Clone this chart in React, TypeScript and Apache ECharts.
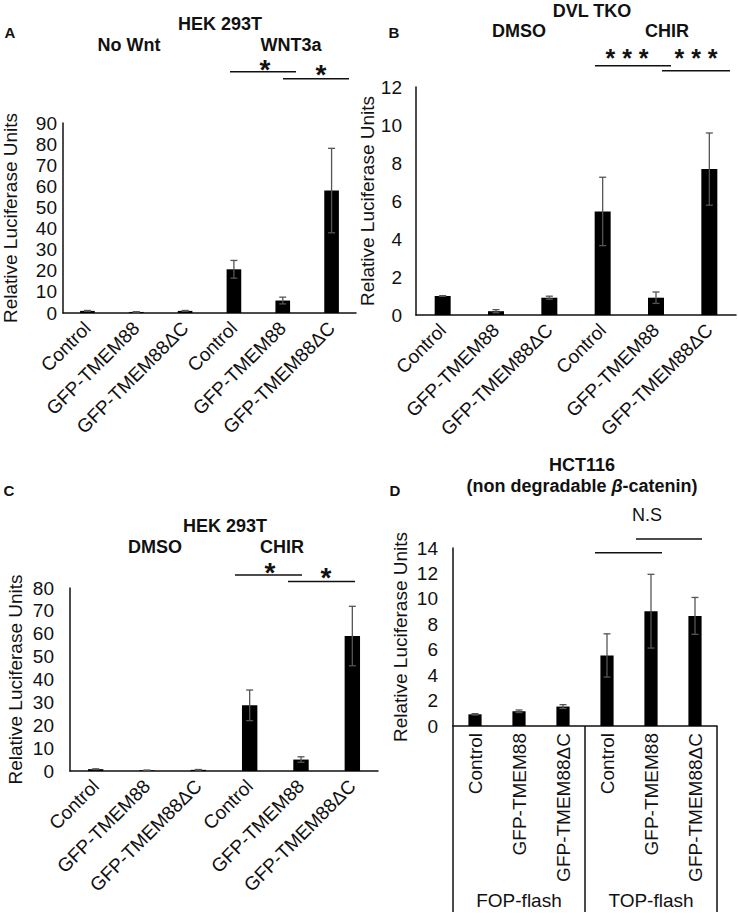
import React, { useEffect, useRef } from 'react';
import * as echarts from 'echarts';

// ---------- data ----------
const categories = ['Control', 'GFP-TMEM88', 'GFP-TMEM88ΔC', 'Control', 'GFP-TMEM88', 'GFP-TMEM88ΔC'];
const groupsD = ['FOP-flash', 'TOP-flash'];

const valuesA = [1.0, 0.5, 1.0, 20.7, 5.9, 58.0];
const errorsA = [0.2, 0.1, 0.2, 4.2, 1.6, 20.0];

const valuesB = [1.0, 0.2, 0.91, 5.45, 0.91, 7.68];
const errorsB = [0.02, 0.08, 0.08, 1.8, 0.3, 1.9];

const valuesC = [0.8, 0.3, 0.5, 28.7, 5.0, 59.0];
const errorsC = [0.15, 0.1, 0.15, 6.7, 1.2, 13.0];

const valuesD = [0.92, 1.16, 1.53, 5.55, 9.03, 8.66];
const errorsD = [0.05, 0.1, 0.15, 1.7, 2.9, 1.45];

const yTicksA = { max: 90, interval: 10 };
const yTicksB = { max: 12, interval: 2 };
const yTicksC = { max: 80, interval: 10 };
const yTicksD = { max: 14, interval: 2 };

const yName = 'Relative Luciferase Units';

// ---------- style ----------
const FONT = '"Liberation Sans", Arial, Helvetica, sans-serif';
const TXT = '#111';
const AX = 19;

const panels = [
  { grid: { left: 60, top: 123, width: 296, height: 190 }, values: valuesA, errors: errorsA, ticks: yTicksA, nameGap: 43, tickMargin: 6, rotate: 45, labelMargin: 12 },
  { grid: { left: 416, top: 87, width: 320, height: 228 }, values: valuesB, errors: errorsB, ticks: yTicksB, nameGap: 37, tickMargin: 14, rotate: 45, labelMargin: 12 },
  { grid: { left: 70, top: 588, width: 308, height: 183 }, values: valuesC, errors: errorsC, ticks: yTicksC, nameGap: 45, tickMargin: 16, rotate: 45, labelMargin: 12 },
  { grid: { left: 453, top: 548, width: 264, height: 178 }, values: valuesD, errors: errorsD, ticks: yTicksD, nameGap: 43, tickMargin: 15, rotate: 90, labelMargin: 7 },
];

function boldText(text: string, x: number, y: number, size = 18, weight: any = 'bold') {
  return {
    type: 'text',
    x,
    y,
    z: 10,
    style: {
      text,
      fontFamily: FONT,
      fontSize: size,
      fontWeight: weight,
      fill: TXT,
      align: 'center',
      verticalAlign: 'middle',
    },
  };
}

function sigLine(x1: number, x2: number, y: number) {
  return {
    type: 'line',
    z: 10,
    shape: { x1, y1: y, x2, y2: y },
    style: { stroke: '#111', lineWidth: 1.5 },
  };
}

function buildOption() {
  const grids = panels.map((p) => ({ ...p.grid, containLabel: false }));

  const xAxes: any[] = panels.map((p, i) => ({
    type: 'category',
    gridIndex: i,
    data: categories,
    position: 'bottom',
    offset: 0,
    axisLine: { show: true, lineStyle: { color: '#111', width: 1.5 } },
    axisTick: { show: false },
    axisLabel: {
      interval: 0,
      rotate: p.rotate,
      margin: p.labelMargin,
      fontFamily: FONT,
      fontSize: AX,
      color: TXT,
    },
    splitLine: { show: false },
  }));

  // group axis for panel D (FOP-flash / TOP-flash with separators)
  xAxes.push({
    type: 'category',
    gridIndex: 3,
    data: groupsD,
    position: 'bottom',
    offset: 0,
    axisLine: { show: false },
    axisTick: { show: true, interval: 0, length: 186, lineStyle: { color: '#111', width: 1.5 } },
    axisLabel: { interval: 0, margin: 165, fontFamily: FONT, fontSize: AX, color: TXT },
    splitLine: { show: false },
  });

  const yAxes = panels.map((p, i) => ({
    type: 'value',
    gridIndex: i,
    min: 0,
    max: p.ticks.max,
    interval: p.ticks.interval,
    name: yName,
    nameLocation: 'middle',
    nameRotate: 90,
    nameGap: p.nameGap,
    nameTextStyle: { fontFamily: FONT, fontSize: AX, color: TXT },
    axisLine: { show: true, lineStyle: { color: '#111', width: 1.5 } },
    axisTick: { show: false },
    axisLabel: { margin: p.tickMargin, fontFamily: FONT, fontSize: AX, color: TXT },
    splitLine: { show: false },
  }));

  const series: any[] = [];
  panels.forEach((p, i) => {
    series.push({
      type: 'bar',
      xAxisIndex: i,
      yAxisIndex: i,
      data: p.values,
      barWidth: '30%',
      itemStyle: { color: '#000' },
      z: 2,
    });
    series.push({
      type: 'custom',
      xAxisIndex: i,
      yAxisIndex: i,
      z: 5,
      data: p.values.map((v, k) => [k, Math.max(0, v - p.errors[k]), v + p.errors[k]]),
      encode: { x: 0, y: [1, 2] },
      renderItem: (params: any, api: any) => {
        const x = api.value(0);
        const lo = api.coord([x, api.value(1)]);
        const hi = api.coord([x, api.value(2)]);
        const w = 3.5;
        const st = { stroke: '#555', lineWidth: 1.3 };
        return {
          type: 'group',
          children: [
            { type: 'line', shape: { x1: hi[0], y1: hi[1], x2: lo[0], y2: lo[1] }, style: st },
            { type: 'line', shape: { x1: hi[0] - w, y1: hi[1], x2: hi[0] + w, y2: hi[1] }, style: st },
            { type: 'line', shape: { x1: lo[0] - w, y1: lo[1], x2: lo[0] + w, y2: lo[1] }, style: st },
          ],
        };
      },
    });
  });

  const graphic: any[] = [
    // panel letters
    boldText('A', 10, 32, 15),
    boldText('B', 394, 32, 15),
    boldText('C', 9, 490, 15),
    boldText('D', 395, 490, 15),
    // A titles
    boldText('HEK 293T', 220, 24),
    boldText('No Wnt', 129, 45),
    boldText('WNT3a', 291, 45),
    sigLine(230, 296, 71.7),
    sigLine(283, 349, 78.7),
    boldText('*', 265, 69, 28),
    boldText('*', 321, 74, 28),
    // B titles
    boldText('DVL TKO', 592, 11),
    boldText('DMSO', 519, 31),
    boldText('CHIR', 667, 31),
    sigLine(595, 671, 65.7),
    sigLine(662, 730, 70.7),
    boldText('* * *', 627, 58, 25),
    boldText('* * *', 696, 58, 25),
    // C titles
    boldText('HEK 293T', 225, 526),
    boldText('DMSO', 155, 547),
    boldText('CHIR', 282, 547),
    sigLine(235, 302, 575),
    sigLine(288, 355, 581.5),
    boldText('*', 270, 572.5, 28),
    boldText('*', 326, 577, 28),
    // D titles
    boldText('HCT116', 582, 465),
    {
      type: 'text',
      x: 582,
      y: 486,
      z: 10,
      style: {
        text: '(non degradable {i|β}-catenin)',
        rich: { i: { fontStyle: 'italic', fontWeight: 'bold', fontFamily: FONT, fontSize: 18, fill: TXT } },
        fontFamily: FONT,
        fontSize: 18,
        fontWeight: 'bold',
        fill: TXT,
        align: 'center',
        verticalAlign: 'middle',
      },
    },
    boldText('N.S', 647, 515, 18, 'normal'),
    sigLine(595, 662, 552.7),
    sigLine(636, 702, 539),
  ];

  return {
    animation: false,
    backgroundColor: '#fff',
    grid: grids,
    xAxis: xAxes,
    yAxis: yAxes,
    series,
    graphic,
  };
}

export default function App() {
  const ref = useRef<HTMLDivElement>(null);
  useEffect(() => {
    if (!ref.current) return;
    const chart = echarts.init(ref.current, null, { renderer: 'svg' });
    chart.setOption(buildOption() as any);
    return () => chart.dispose();
  }, []);
  return (
    <div
      ref={ref}
      style={{ position: 'absolute', left: 0, top: 0, width: 738, height: 913, background: '#fff' }}
    />
  );
}
